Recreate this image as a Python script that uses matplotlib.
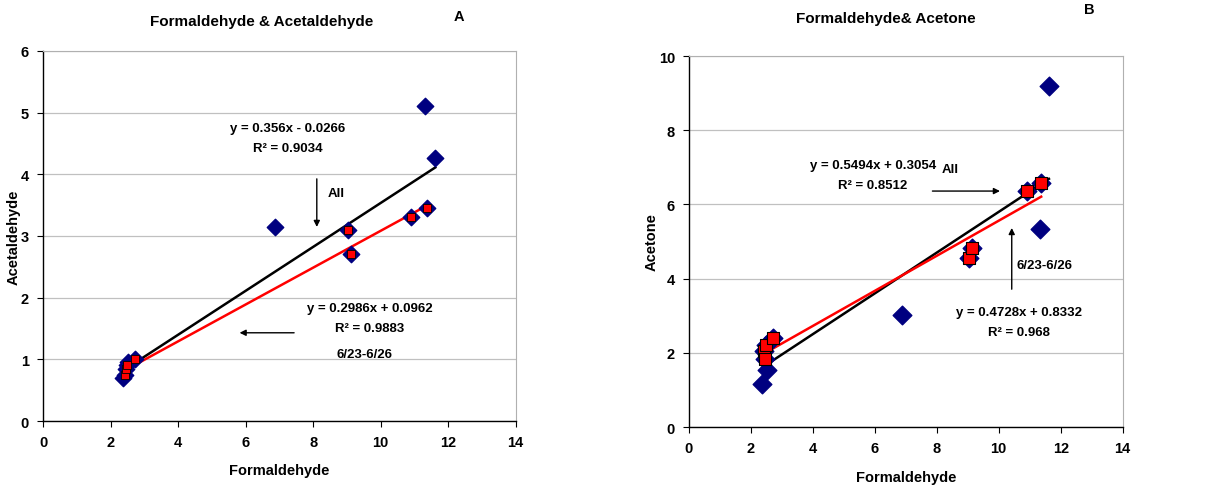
import matplotlib.pyplot as plt

# 6/23-6/26 subset (red squares)
sub_form = [2.42, 2.47, 2.49, 2.72, 9.03, 9.13, 10.90, 11.37]
sub_acetald = [0.74, 0.84, 0.91, 1.01, 3.10, 2.71, 3.30, 3.46]
sub_acetone = [2.04, 1.84, 2.20, 2.40, 4.55, 4.83, 6.37, 6.59]

# remaining points of the "All" set
other_form = [2.37, 2.52, 6.87, 11.32, 11.62]
other_acetald = [0.69, 0.95, 3.14, 5.10, 4.26]
other_acetone = [1.15, 1.55, 3.03, 5.33, 9.18]

all_form = sub_form + other_form
all_acetald = sub_acetald + other_acetald
all_acetone = sub_acetone + other_acetone

# trend line coefficients shown on the chart (slope, intercept)
fit_a_all = (0.356, -0.0266)
fit_a_sub = (0.2986, 0.0962)
fit_b_all = (0.5494, 0.3054)
fit_b_sub = (0.4728, 0.8332)

plt.rcParams["font.family"] = ["Liberation Sans", "DejaVu Sans"]
plt.rcParams["font.weight"] = "bold"

TXT = dict(ha="center", va="center", fontsize=9.5, fontweight="bold")
ARROW = dict(arrowstyle="-|>", color="black", lw=1.0, mutation_scale=9)


def trend(ax, xs, coef, color):
    x0, x1 = min(xs), max(xs)
    m, b = coef
    ax.plot([x0, x1], [m * x0 + b, m * x1 + b], color=color, linewidth=1.8, zorder=3)


def style_axes(ax, ymax, ystep):
    ax.set_xlim(0, 14)
    ax.set_ylim(0, ymax)
    ax.set_xticks(range(0, 15, 2))
    ax.set_yticks([i * ystep for i in range(int(ymax / ystep) + 1)])
    ax.grid(axis="y", color="#c0c0c0", linewidth=0.9)
    ax.set_axisbelow(True)
    for side in ("top", "right"):
        ax.spines[side].set_color("#b0b0b0")
    for side in ("left", "bottom"):
        ax.spines[side].set_color("black")
        ax.spines[side].set_linewidth(1.0)
    ax.tick_params(direction="out", length=4, labelsize=10.5, pad=6)
    for lab in ax.get_xticklabels() + ax.get_yticklabels():
        lab.set_fontweight("bold")


def place_labels(ax, xlab, ylab, xpos, ypos):
    ax.set_xlabel(xlab, fontsize=10.5, fontweight="bold")
    ax.set_ylabel(ylab, fontsize=10.5, fontweight="bold")
    ax.xaxis.set_label_coords(0.5, xpos)
    ax.yaxis.set_label_coords(ypos, 0.5)
    ax.xaxis.label.set_va("center")
    ax.yaxis.label.set_va("center")


fig = plt.figure(figsize=(12.15, 4.89), dpi=100)

# ---------------- Panel A ----------------
axA = fig.add_axes([0.0354, 0.137, 0.389, 0.757])
style_axes(axA, 6, 1)
axA.scatter(all_form, all_acetald, marker="D", s=70, color="#000080", zorder=4)
trend(axA, all_form, fit_a_all, "black")
trend(axA, sub_form, fit_a_sub, "red")
axA.scatter(sub_form, sub_acetald, marker="s", s=28, color="red",
            edgecolors="black", linewidths=0.6, zorder=5)

axA.text(7.25, 4.75, "y = 0.356x - 0.0266", **TXT)
axA.text(7.25, 4.43, "R² = 0.9034", **TXT)
axA.annotate("", xy=(8.11, 3.10), xytext=(8.11, 3.97), arrowprops=ARROW)
axA.text(8.70, 3.70, "All", **TXT)
axA.text(9.68, 1.83, "y = 0.2986x + 0.0962", **TXT)
axA.text(9.68, 1.51, "R² = 0.9883", **TXT)
axA.text(9.53, 1.09, "6/23-6/26", **TXT)
axA.annotate("", xy=(5.74, 1.43), xytext=(7.52, 1.43), arrowprops=ARROW)

place_labels(axA, "Formaldehyde", "Acetaldehyde", -0.132, -0.063)
fig.text(262 / 1215, 1 - 22 / 489, "Formaldehyde & Acetaldehyde", ha="center", va="center",
         fontsize=11, fontweight="bold")
fig.text(459 / 1215, 1 - 17 / 489, "A", ha="center", va="center", fontsize=10.5, fontweight="bold")

# ---------------- Panel B ----------------
axB = fig.add_axes([0.567, 0.1247, 0.357, 0.7587])
style_axes(axB, 10, 2)
axB.scatter(all_form, all_acetone, marker="D", s=90, color="#000080", zorder=4)
trend(axB, all_form, fit_b_all, "black")
trend(axB, sub_form, fit_b_sub, "red")
axB.scatter(sub_form, sub_acetone, marker="s", s=70, color="red",
            edgecolors="black", linewidths=0.8, zorder=5)

axB.text(5.94, 7.06, "y = 0.5494x + 0.3054", **TXT)
axB.text(5.94, 6.52, "R² = 0.8512", **TXT)
axB.text(8.42, 6.95, "All", **TXT)
axB.annotate("", xy=(10.13, 6.36), xytext=(7.77, 6.36), arrowprops=ARROW)
axB.annotate("", xy=(10.42, 5.44), xytext=(10.42, 3.64), arrowprops=ARROW)
axB.text(11.48, 4.37, "6/23-6/26", **TXT)
axB.text(10.65, 3.10, "y = 0.4728x + 0.8332", **TXT)
axB.text(10.65, 2.56, "R² = 0.968", **TXT)

place_labels(axB, "Formaldehyde", "Acetone", -0.135, -0.085)
fig.text(886 / 1215, 1 - 19 / 489, "Formaldehyde& Acetone", ha="center", va="center",
         fontsize=11, fontweight="bold")
fig.text(1089 / 1215, 1 - 10 / 489, "B", ha="center", va="center", fontsize=10.5, fontweight="bold")

fig.savefig("out.png", dpi=100)
